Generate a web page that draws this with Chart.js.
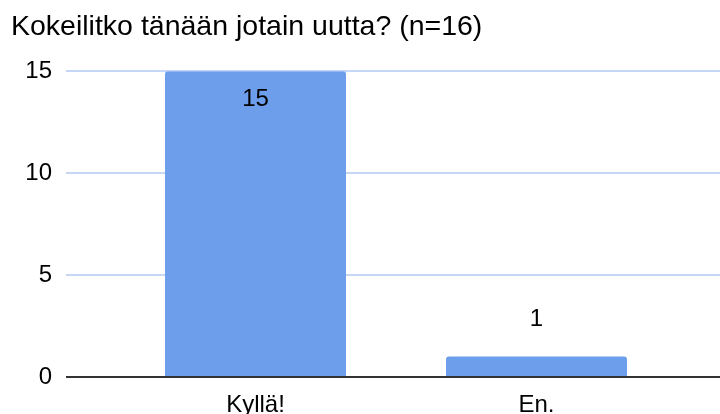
<!DOCTYPE html>
<html>
<head>
<meta charset="utf-8">
<script src="https://cdn.jsdelivr.net/npm/chart.js@4.4.1/dist/chart.umd.min.js"></script>
<style>
  html, body { margin: 0; padding: 0; background: #ffffff; }
  #wrap { width: 720px; height: 414px; position: relative; }
</style>
</head>
<body>
<div id="wrap"><canvas id="c" width="720" height="414"></canvas></div>
<script>
const titleText = "Kokeilitko tänään jotain uutta? (n=16)";
const categories = ["Kyllä!", "En."];
const answers = [15, 1];
const yTicks = [0, 5, 10, 15];

const FONT = "'Liberation Sans', Arial, Helvetica, sans-serif";
const gridColor = (ctx) => (ctx.tick && ctx.tick.value === 0) ? '#333333' : '#c6d6f6';

const valueLabels = {
  id: 'valueLabels',
  afterDatasetsDraw(chart) {
    const ctx = chart.ctx;
    const meta = chart.getDatasetMeta(0);
    const yScale = chart.scales.y;
    ctx.save();
    ctx.font = '24px ' + FONT;
    ctx.fillStyle = '#000000';
    ctx.textAlign = 'center';
    ctx.textBaseline = 'middle';
    meta.data.forEach((bar, i) => {
      const v = chart.data.datasets[0].data[i];
      const inside = v / yScale.max > 0.5;
      const y = inside ? bar.y + 28 : bar.y - 37;
      ctx.fillText(String(v), bar.x, y);
    });
    ctx.restore();
  }
};

new Chart(document.getElementById('c'), {
  type: 'bar',
  data: {
    labels: categories,
    datasets: [{
      data: answers,
      backgroundColor: '#6d9eeb',
      borderWidth: 0,
      borderRadius: { topLeft: 3, topRight: 3, bottomLeft: 0, bottomRight: 0 },
      borderSkipped: false,
      barPercentage: 0.644,
      categoryPercentage: 1.0,
      yAxisID: 'y'
    }]
  },
  options: {
    responsive: false,
    animation: false,
    events: [],
    layout: { padding: { left: 11, right: 0, top: 0, bottom: 0 } },
    plugins: {
      legend: { display: false },
      tooltip: { enabled: false },
      title: {
        display: true,
        text: titleText,
        align: 'start',
        color: '#000000',
        font: { family: FONT, size: 28.5, weight: 'normal' },
        padding: { top: 10, bottom: 27 }
      }
    },
    scales: {
      x: {
        grid: { display: false, drawTicks: false },
        border: { display: false },
        ticks: { color: '#000000', font: { family: FONT, size: 24 }, padding: 14, maxRotation: 0 },
        afterFit(scale) { scale.height = 37; }
      },
      y: {
        position: 'left',
        min: yTicks[0],
        max: yTicks[yTicks.length - 1],
        afterBuildTicks(scale) { scale.ticks = yTicks.map(v => ({ value: v })); },
        ticks: { color: '#000000', font: { family: FONT, size: 24 }, padding: 14 },
        grid: { color: gridColor, lineWidth: 2, tickLength: 49, drawTicks: true },
        border: { display: false },
        afterFit(scale) { scale.width = 104; }
      },
      y2: {
        position: 'right',
        min: yTicks[0],
        max: yTicks[yTicks.length - 1],
        afterBuildTicks(scale) { scale.ticks = yTicks.map(v => ({ value: v })); },
        ticks: { display: false },
        grid: { color: gridColor, lineWidth: 2, tickLength: 43, drawTicks: true, drawOnChartArea: false },
        border: { display: false },
        afterFit(scale) { scale.width = 43; }
      }
    }
  },
  plugins: [valueLabels]
});
</script>
</body>
</html>
